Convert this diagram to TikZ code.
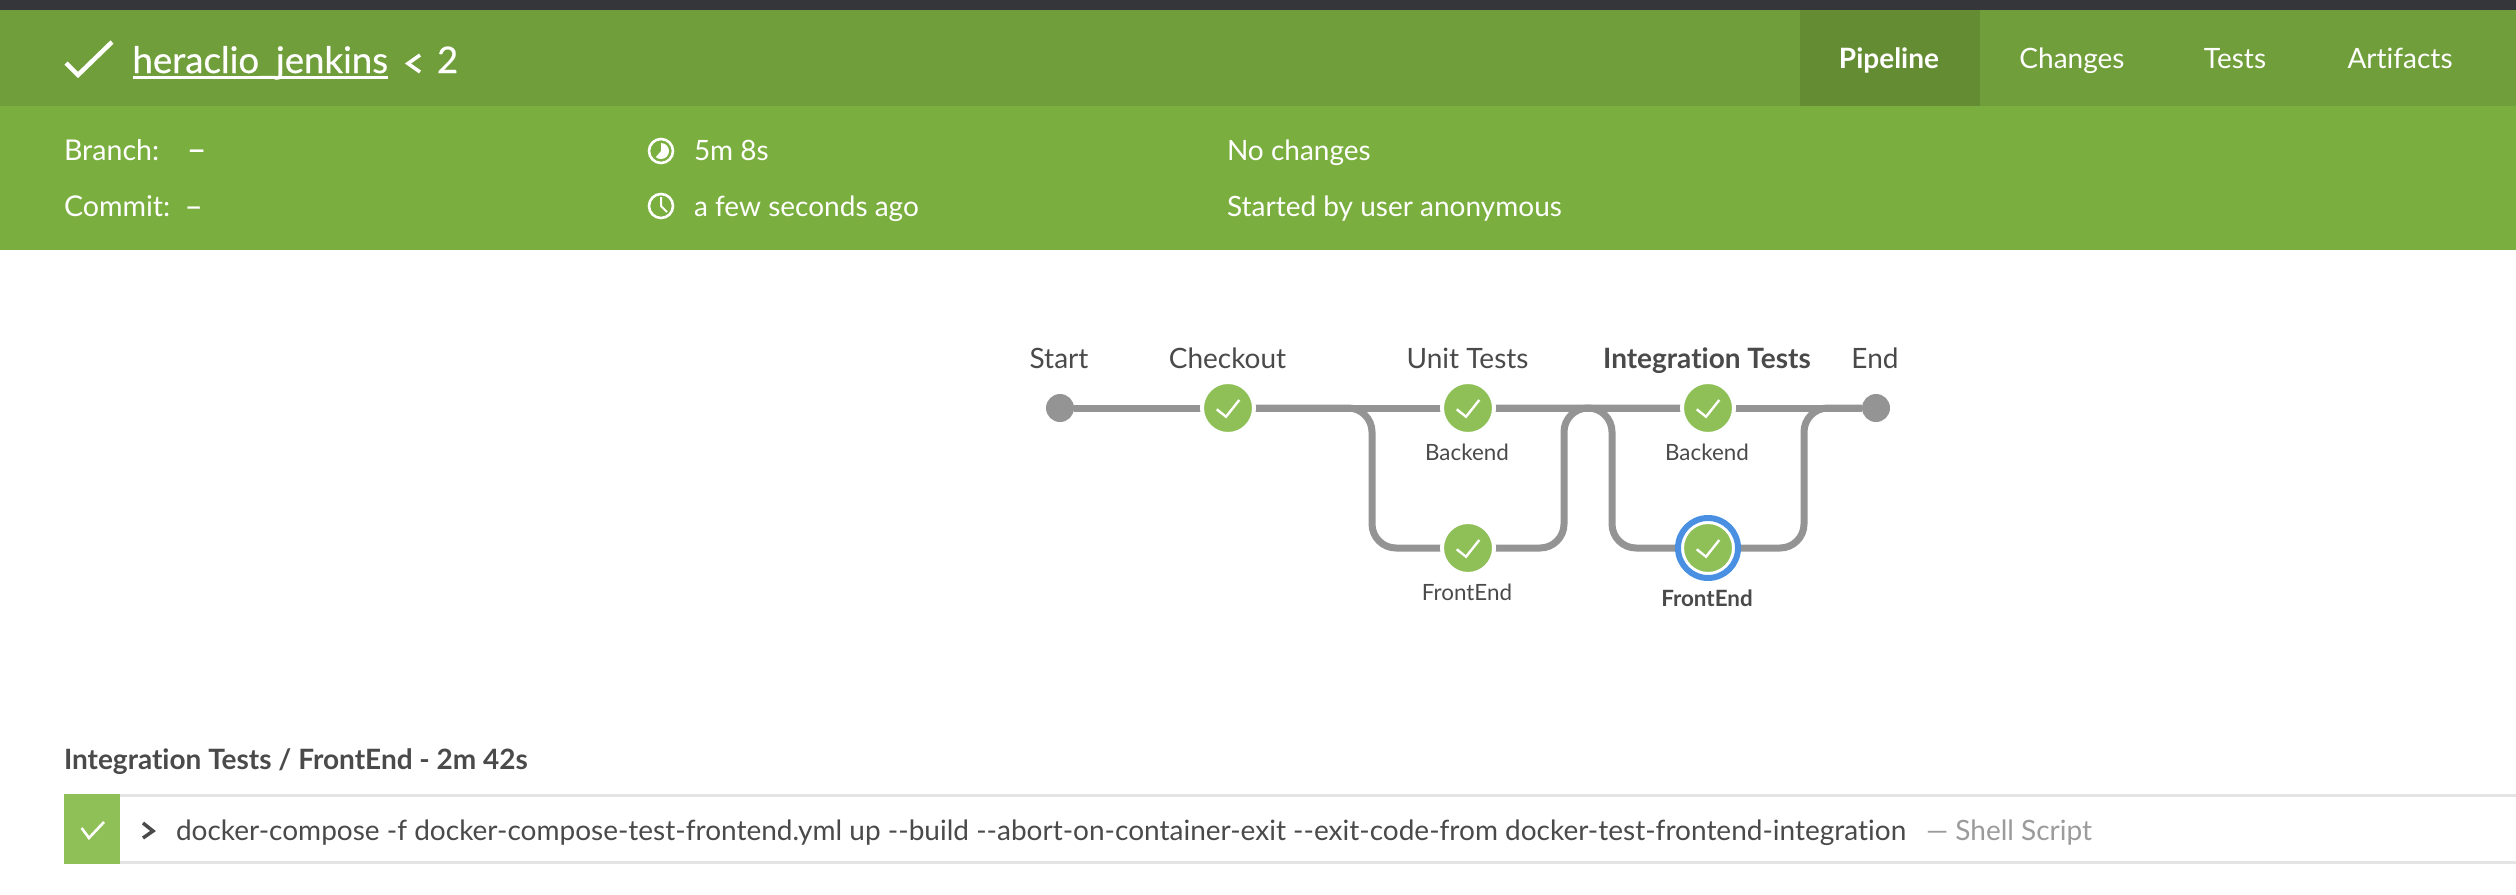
\documentclass[tikz,border=0pt]{standalone}
\usepackage{fontspec}
\setmainfont{Lato}[Ligatures=NoCommon]
\newfontfamily\heavyfont{Lato}[Ligatures=NoCommon,FakeBold=0.5]
\usetikzlibrary{backgrounds}
\definecolor{hdr}{HTML}{6F9E3A}
\definecolor{sub}{HTML}{7AAE3E}
\definecolor{sel}{HTML}{648C33}
\definecolor{okg}{HTML}{8FC057}
\definecolor{gry}{HTML}{949494}
\definecolor{blu}{HTML}{4A90E2}
\definecolor{txt}{HTML}{4A4A4A}
\definecolor{drk}{HTML}{35363A}
\definecolor{lgt}{HTML}{E4E4E4}
\definecolor{mut}{HTML}{9B9B9B}
\newcommand{\fs}[1]{\fontsize{#1}{#1}\selectfont}
\tikzset{
  lab/.style={inner sep=0pt,outer sep=0pt,text=txt},
  stagelab/.style={lab,anchor=base,font=\fs{28}},
  sublab/.style={lab,anchor=base,font=\fs{22.4}},
  hlab/.style={inner sep=0pt,outer sep=0pt,text=white,anchor=base west,font=\fs{28}},
  tab/.style={inner sep=0pt,outer sep=0pt,text=white,anchor=base,font=\fs{28}},
  okstep/.style={circle,fill=okg,draw=white,line width=4pt,minimum size=52pt,inner sep=0pt,outer sep=0pt},
  endpt/.style={circle,fill=gry,minimum size=28pt,inner sep=0pt,outer sep=0pt},
  conn/.style={draw=gry,line width=7pt},
  tick/.style={draw=white,line width=2.4pt,fill=none},
}
\newcommand{\okmark}[1]{\draw[tick] ([shift={(-11.3,1.3)}]#1.center) -- ([shift={(-2,8.7)}]#1.center) -- ([shift={(11.3,-8)}]#1.center);}
\begin{document}
\begin{tikzpicture}[x=1pt,y=-1pt]
\useasboundingbox (0,0) rectangle (2516,894);
% stages
\node[endpt] (start) at (1060,408) {};
\node[okstep] (checkout) at (1228,408) {};
\node[okstep] (ub) at (1468,408) {};
\node[okstep] (uf) at (1468,548) {};
\node[okstep] (ib) at (1708,408) {};
\node[okstep] (if) at (1708,548) {};
\node[endpt] (end) at (1876,408) {};
\coordinate (f1) at (1372,0);
\coordinate (j1) at (1564,0);
\coordinate (f2) at (1612,0);
\coordinate (j2) at (1804,0);
\begin{pgfonlayer}{background}
\fill[white] (0,0) rectangle (2516,894);
\fill[drk] (0,0) rectangle (2516,10);
\fill[hdr] (0,10) rectangle (2516,106);
\fill[sub] (0,106) rectangle (2516,250);
\fill[sel] (1800,10) rectangle (1980,106);
\draw[conn] (start) -- (checkout);
\draw[conn] (checkout) -- (ub);
\draw[conn] (ub) -- (ib);
\draw[conn] (ib) -- (end);
\draw[conn,rounded corners=24pt] (checkout) -- (f1 |- checkout) -- (f1 |- uf) -- (uf);
\draw[conn,rounded corners=24pt] (uf) -- (j1 |- uf) -- (j1 |- ib) -- (ib);
\draw[conn,rounded corners=24pt] (ub) -- (f2 |- ub) -- (f2 |- if) -- (if);
\draw[conn,rounded corners=24pt] (if) -- (j2 |- if) -- (j2 |- end) -- (end);
\end{pgfonlayer}
\draw[blu,line width=6pt] (if) circle (30pt);
\okmark{checkout}\okmark{ub}\okmark{uf}\okmark{ib}\okmark{if}
% stage labels
\node[stagelab] (lstart) at (1059,368) {Start};
\node[stagelab] (lcheck) at (1227.5,368) {Checkout};
\node[stagelab] (lunit) at (1467.5,368) {Unit Tests};
\node[stagelab,font=\fs{28}\bfseries] (lint) at (1707,368) {Integration Tests};
\node[stagelab] (lend) at (1875,368) {End};
\node[sublab] (lub) at (1467,460) {Backend};
\node[sublab] (luf) at (1467,600) {FrontEnd};
\node[sublab] (lib) at (1707,460) {Backend};
\node[sublab,font=\fs{22.4}\bfseries] (lif) at (1707,606) {FrontEnd};
% header
\draw[white,line width=4.5pt] (66,63) -- (78,75) -- (112,42);
\node[hlab,font=\fs{36.6}\heavyfont] (title) at (132.5,73) {heraclio\_jenkins};
\draw[white,line width=2.8pt] ([yshift=-4.5pt]title.base west) -- ([yshift=-4.5pt]title.base east);
\draw[white,line width=3.5pt] (420,55) -- (408,63.5) -- (420,72);
\node[hlab,font=\fs{36.6}\heavyfont] (run) at (437,73) {2};
\node[tab,font=\fs{28}\bfseries] (t1) at (1889,68) {Pipeline};
\node[tab] (t2) at (2072,68) {Changes};
\node[tab] (t3) at (2235,68) {Tests};
\node[tab] (t4) at (2400,68) {Artifacts};
\node[hlab,font=\fs{28.6}] (b) at (64,160.5) {Branch:};
\node[hlab,font=\fs{33}\heavyfont] (bd) at (187,160.5) {–};
\node[hlab,font=\fs{28.6}] (c) at (64,216.5) {Commit:};
\node[hlab,font=\fs{30}\heavyfont] (cd) at (185,216.5) {–};
\draw[white,line width=2.6pt] (661,151) circle (12pt);
\fill[white] (661,151) -- (661,143) arc[start angle=90,end angle=-130,radius=8pt] -- cycle;
\draw[white,line width=2.6pt] (661,206) circle (12pt);
\draw[white,line width=2pt] (661,197) -- (661,206) -- (667,212);
\node[hlab] (dur) at (694,160.5) {5m 8s};
\node[hlab] (ago) at (694,216.5) {a few seconds ago};
\node[hlab] (chg) at (1227,160.5) {No changes};
\node[hlab] (usr) at (1227,216.5) {Started by user anonymous};
% bottom
\node[lab,anchor=base west,font=\fs{28}\bfseries] (sect) at (64,769) {Integration Tests / FrontEnd - 2m 42s};
\fill[lgt] (120,794) rectangle (2516,797);
\fill[lgt] (120,861) rectangle (2516,864);
\fill[okg] (64,794) rectangle (120,864);
\draw[white,line width=2.6pt] (81.6,828) -- (89,838) -- (104,822);
\draw[txt,line width=3.5pt] (143,823) -- (153,831) -- (143,838);
\node[lab,anchor=base west,font=\fs{28}] (cmd) at (176,840) {docker-compose -f docker-compose-test-frontend.yml up {-}{-}build {-}{-}abort-on-container-exit {-}{-}exit-code-from docker-test-frontend-integration};
\node[lab,anchor=base west,font=\fs{28},text=mut] (kind) at (1926,840) {— Shell Script};
\end{tikzpicture}
\end{document}
